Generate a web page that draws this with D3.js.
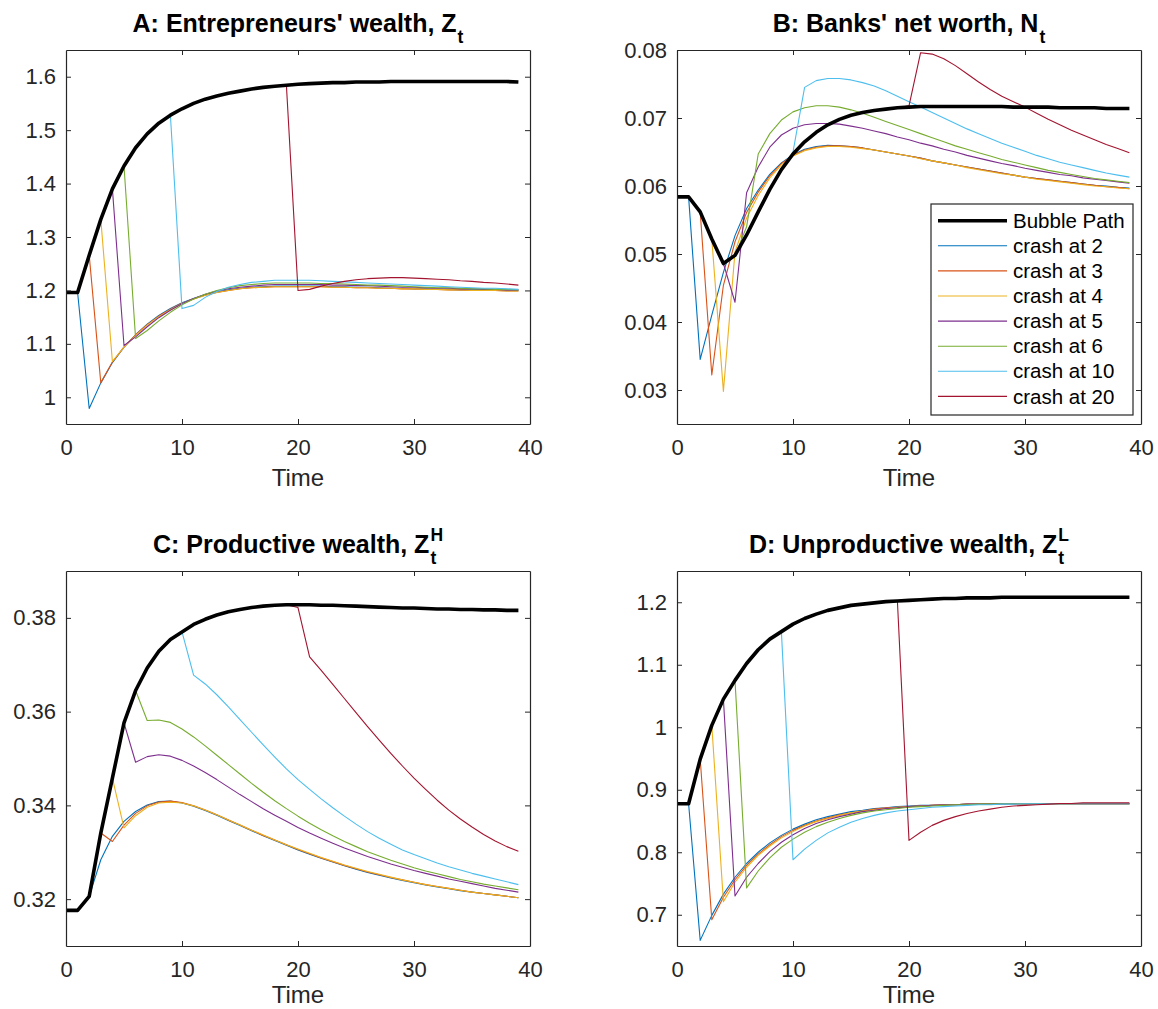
<!DOCTYPE html>
<html>
<head>
<meta charset="utf-8">
<script src="https://cdn.jsdelivr.net/npm/d3@7"></script>
<style>
  body { margin: 0; background: #fff; }
  svg { display: block; font-family: "Liberation Sans", Arial, Helvetica, sans-serif; }
</style>
</head>
<body>
<svg id="fig" width="1158" height="1009"></svg>
<script>
// ---- shared axes data ----
const time = d3.range(0, 40);
const xTicks = [0, 10, 20, 30, 40];
const crashTimes = [2, 3, 4, 5, 6, 10, 20];
const seriesNames = ["Bubble Path", "crash at 2", "crash at 3", "crash at 4",
                     "crash at 5", "crash at 6", "crash at 10", "crash at 20"];
const seriesColors = ["#000000", "#0072BD", "#D95319", "#EDB120",
                      "#7E2F8E", "#77AC30", "#4DBEEE", "#A2142F"];

// ---- A: entrepreneurs' wealth Z_t ----
const bubbleZ = [1.196,1.196,1.266,1.333,1.390,1.433,1.467,1.493,1.513,1.528,
  1.540,1.550,1.558,1.564,1.569,1.573,1.577,1.580,1.582,1.584,
  1.586,1.587,1.588,1.589,1.589,1.590,1.590,1.590,1.591,1.591,
  1.591,1.591,1.591,1.591,1.591,1.591,1.591,1.591,1.591,1.590];
// values from the crash period onwards
const crashZ2 = [0.979,1.027,1.065,1.094,1.117,1.137,1.153,1.166,1.177,1.185,
  1.192,1.197,1.201,1.204,1.206,1.207,1.208,1.208,1.208,1.208,1.208,1.207,1.207,
  1.206,1.206,1.205,1.204,1.204,1.203,1.203,1.202,1.202,1.201,1.201,1.201,1.200,1.200,1.200];
const crashZ3 = [1.027,1.066,1.094,1.117,1.136,1.152,1.165,1.176,1.184,1.191,1.196,
  1.200,1.203,1.205,1.206,1.207,1.207,1.207,1.207,1.207,1.206,1.206,1.205,1.205,
  1.204,1.204,1.203,1.203,1.202,1.202,1.201,1.201,1.200,1.200,1.200,1.199,1.199];
const crashZ4 = [1.067,1.094,1.116,1.135,1.151,1.164,1.175,1.184,1.191,1.196,1.200,
  1.203,1.205,1.206,1.207,1.207,1.207,1.207,1.207,1.206,1.206,1.205,1.205,1.204,
  1.204,1.203,1.203,1.202,1.202,1.201,1.201,1.200,1.200,1.200,1.199,1.199];
const crashZ5 = [1.097,1.113,1.132,1.149,1.163,1.175,1.185,1.193,1.199,1.203,1.206,
  1.208,1.210,1.211,1.211,1.211,1.211,1.211,1.210,1.210,1.209,1.209,1.208,1.207,
  1.206,1.206,1.205,1.204,1.204,1.203,1.203,1.202,1.202,1.201,1.201];
const crashZ6 = [1.110,1.125,1.143,1.159,1.173,1.184,1.193,1.200,1.205,1.209,1.211,
  1.213,1.214,1.214,1.214,1.214,1.213,1.213,1.212,1.211,1.210,1.210,1.209,1.208,
  1.207,1.206,1.205,1.205,1.204,1.203,1.203,1.202,1.202,1.201];
const crashZ10 = [1.166,1.172,1.187,1.198,1.206,1.211,1.215,1.217,1.219,1.219,1.219,
  1.219,1.218,1.217,1.216,1.215,1.214,1.213,1.212,1.211,1.210,1.209,1.208,1.207,
  1.206,1.205,1.204,1.204,1.203,1.202];
const crashZ20 = [1.200,1.202,1.208,1.213,1.217,1.220,1.222,1.223,1.224,1.224,1.223,
  1.222,1.221,1.220,1.218,1.217,1.215,1.214,1.212,1.210];

// ---- B: banks' net worth N_t ----
const bubbleN = [0.0584,0.0584,0.0562,0.0522,0.0486,0.0498,0.0528,0.0562,0.0595,0.0624,
  0.0647,0.0665,0.0679,0.0690,0.0698,0.0704,0.0708,0.0711,0.0713,0.0715,
  0.0716,0.0717,0.0717,0.0717,0.0717,0.0717,0.0717,0.0717,0.0717,0.0716,
  0.0716,0.0716,0.0716,0.0715,0.0715,0.0715,0.0715,0.0714,0.0714,0.0714];
const crashN2 = [0.0345,0.0410,0.0473,0.0527,0.0567,0.0594,0.0617,0.0634,0.0646,0.0654,
  0.0658,0.0660,0.0659,0.0658,0.0656,0.0653,0.0650,0.0647,0.0644,0.0641,0.0637,0.0634,
  0.0631,0.0628,0.0625,0.0622,0.0619,0.0616,0.0613,0.0611,0.0609,0.0607,0.0605,0.0603,
  0.0601,0.0600,0.0598,0.0597];
const crashN3 = [0.0322,0.0454,0.0518,0.0561,0.0591,0.0615,0.0633,0.0645,0.0653,0.0657,
  0.0659,0.0659,0.0658,0.0656,0.0653,0.0650,0.0647,0.0644,0.0641,0.0637,0.0634,0.0631,
  0.0628,0.0625,0.0622,0.0619,0.0616,0.0613,0.0611,0.0609,0.0607,0.0605,0.0603,0.0601,
  0.0599,0.0598,0.0596];
const crashN4 = [0.0298,0.0503,0.0553,0.0586,0.0612,0.0631,0.0644,0.0652,0.0656,0.0658,
  0.0658,0.0657,0.0655,0.0653,0.0650,0.0647,0.0644,0.0640,0.0637,0.0634,0.0631,0.0627,
  0.0624,0.0621,0.0618,0.0616,0.0613,0.0610,0.0608,0.0606,0.0604,0.0602,0.0600,0.0599,
  0.0597,0.0596];
const crashN5 = [0.0429,0.0590,0.0628,0.0657,0.0675,0.0685,0.0690,0.0692,0.0692,0.0691,
  0.0688,0.0685,0.0681,0.0677,0.0672,0.0668,0.0663,0.0659,0.0654,0.0650,0.0645,0.0641,
  0.0637,0.0633,0.0630,0.0626,0.0623,0.0620,0.0617,0.0615,0.0612,0.0610,0.0608,0.0606,0.0604];
const crashN6 = [0.0540,0.0647,0.0677,0.0697,0.0709,0.0715,0.0718,0.0718,0.0716,0.0712,
  0.0707,0.0701,0.0695,0.0689,0.0683,0.0677,0.0671,0.0665,0.0659,0.0654,0.0649,0.0644,
  0.0639,0.0635,0.0631,0.0627,0.0623,0.0620,0.0617,0.0614,0.0611,0.0609,0.0607,0.0605];
const crashN10 = [0.0650,0.0745,0.0755,0.0758,0.0758,0.0756,0.0752,0.0747,0.0740,0.0732,
  0.0724,0.0716,0.0708,0.0700,0.0692,0.0684,0.0677,0.0670,0.0663,0.0657,0.0651,0.0645,
  0.0640,0.0635,0.0631,0.0627,0.0623,0.0619,0.0616,0.0613];
const crashN20 = [0.0718,0.0796,0.0794,0.0787,0.0777,0.0765,0.0753,0.0742,0.0732,0.0724,
  0.0716,0.0707,0.0698,0.0690,0.0682,0.0675,0.0668,0.0661,0.0655,0.0649];

// ---- C: productive wealth Z^H_t ----
const bubbleH = [0.3176,0.3176,0.3206,0.3341,0.3458,0.3576,0.3645,0.3693,0.3729,0.3754,
  0.3770,0.3786,0.3797,0.3806,0.3813,0.3818,0.3822,0.3825,0.3827,0.3828,
  0.3828,0.3828,0.3827,0.3827,0.3826,0.3825,0.3824,0.3823,0.3822,0.3821,
  0.3821,0.3820,0.3819,0.3819,0.3818,0.3818,0.3817,0.3817,0.3816,0.3816];
const crashH2 = [0.3206,0.3284,0.3334,0.3366,0.3387,0.3401,0.3408,0.3409,0.3405,0.3398,
  0.3389,0.3379,0.3368,0.3357,0.3346,0.3335,0.3325,0.3315,0.3305,0.3296,0.3287,0.3279,
  0.3271,0.3264,0.3257,0.3251,0.3245,0.3240,0.3235,0.3230,0.3226,0.3222,0.3218,0.3215,
  0.3212,0.3209,0.3206,0.3203];
const crashH3 = [0.3341,0.3323,0.3358,0.3383,0.3399,0.3407,0.3409,0.3406,0.3399,0.3390,
  0.3380,0.3369,0.3358,0.3347,0.3336,0.3326,0.3316,0.3306,0.3297,0.3288,0.3280,0.3272,
  0.3265,0.3258,0.3252,0.3246,0.3241,0.3236,0.3231,0.3227,0.3223,0.3219,0.3215,0.3212,
  0.3209,0.3206,0.3203];
const crashH4 = [0.3458,0.3352,0.3378,0.3396,0.3405,0.3407,0.3405,0.3399,0.3390,0.3380,
  0.3369,0.3358,0.3347,0.3337,0.3326,0.3316,0.3307,0.3298,0.3289,0.3281,0.3273,0.3266,
  0.3259,0.3253,0.3247,0.3241,0.3236,0.3231,0.3227,0.3223,0.3219,0.3215,0.3212,0.3209,
  0.3206,0.3203];
const crashH5 = [0.3576,0.3492,0.3504,0.3508,0.3505,0.3496,0.3484,0.3470,0.3455,0.3439,
  0.3423,0.3408,0.3393,0.3379,0.3366,0.3353,0.3341,0.3330,0.3319,0.3309,0.3300,0.3291,
  0.3283,0.3275,0.3268,0.3261,0.3255,0.3249,0.3243,0.3238,0.3233,0.3228,0.3223,0.3219,0.3215];
const crashH6 = [0.3645,0.3581,0.3582,0.3577,0.3563,0.3546,0.3527,0.3507,0.3487,0.3467,
  0.3447,0.3428,0.3410,0.3393,0.3377,0.3362,0.3348,0.3335,0.3323,0.3312,0.3301,0.3292,
  0.3283,0.3275,0.3267,0.3260,0.3254,0.3248,0.3242,0.3237,0.3232,0.3228,0.3224,0.3220];
const crashH10 = [0.3770,0.3678,0.3659,0.3636,0.3610,0.3583,0.3556,0.3529,0.3503,0.3478,
  0.3455,0.3434,0.3414,0.3395,0.3377,0.3360,0.3344,0.3330,0.3317,0.3305,0.3295,0.3286,
  0.3277,0.3269,0.3262,0.3255,0.3249,0.3243,0.3237,0.3231];
const crashH20 = [0.3822,0.3717,0.3688,0.3658,0.3628,0.3598,0.3568,0.3539,0.3511,0.3484,
  0.3458,0.3434,0.3411,0.3390,0.3371,0.3354,0.3338,0.3324,0.3312,0.3302];

// ---- D: unproductive wealth Z^L_t ----
const bubbleL = [0.8775,0.8775,0.949,1.003,1.045,1.075,1.102,1.124,1.141,1.153,
  1.165,1.174,1.181,1.187,1.191,1.195,1.197,1.199,1.201,1.202,
  1.203,1.204,1.205,1.206,1.206,1.207,1.207,1.207,1.208,1.208,
  1.208,1.208,1.208,1.208,1.208,1.208,1.208,1.208,1.208,1.208];
const crashL2 = [0.659,0.699,0.733,0.760,0.782,0.800,0.815,0.827,0.837,0.845,0.852,0.857,
  0.861,0.865,0.867,0.870,0.871,0.873,0.874,0.875,0.875,0.876,0.876,0.877,0.877,0.877,
  0.877,0.8775,0.8775,0.8775,0.8775,0.8775,0.8775,0.8775,0.8775,0.8775,0.8775,0.8775];
const crashL3 = [0.692,0.728,0.756,0.779,0.797,0.812,0.825,0.835,0.843,0.850,0.855,0.860,
  0.863,0.866,0.869,0.871,0.872,0.873,0.874,0.875,0.876,0.876,0.877,0.877,0.877,
  0.8775,0.8775,0.8775,0.8775,0.8775,0.8775,0.8775,0.8775,0.8775,0.8775,0.8775,0.8775];
const crashL4 = [0.721,0.752,0.776,0.795,0.810,0.823,0.833,0.842,0.849,0.854,0.859,0.863,
  0.866,0.868,0.870,0.872,0.873,0.874,0.875,0.876,0.876,0.877,0.877,0.877,
  0.8775,0.8775,0.8775,0.8775,0.8775,0.8775,0.8775,0.8775,0.8775,0.8775,0.8775,0.8775];
const crashL5 = [0.730,0.760,0.782,0.801,0.816,0.828,0.838,0.846,0.852,0.857,0.861,0.865,
  0.867,0.870,0.871,0.873,0.874,0.875,0.876,0.876,0.877,0.877,0.877,
  0.8775,0.8775,0.8775,0.8775,0.8775,0.8775,0.8775,0.8775,0.8775,0.8775,0.8775,0.8775];
const crashL6 = [0.743,0.770,0.791,0.808,0.821,0.832,0.841,0.848,0.854,0.859,0.863,0.866,
  0.868,0.870,0.872,0.873,0.874,0.875,0.876,0.876,0.877,0.877,
  0.8775,0.8775,0.8775,0.8775,0.8775,0.8775,0.8775,0.8775,0.8775,0.8775,0.8775,0.8775];
const crashL10 = [0.788,0.805,0.819,0.831,0.840,0.848,0.854,0.859,0.863,0.866,0.868,0.870,
  0.872,0.873,0.874,0.875,0.876,0.876,0.877,0.877,
  0.8775,0.8775,0.8775,0.8775,0.8775,0.8775,0.8775,0.8775,0.8775,0.8775];
const crashL20 = [0.819,0.832,0.843,0.851,0.857,0.862,0.866,0.869,0.872,0.874,0.875,0.876,
  0.877,0.878,0.878,0.879,0.879,0.879,0.879,0.879];

// A crash path follows the bubble path until the crash period, then its own values.
function crashPaths(bubble, tails) {
  return crashTimes.map((k, i) => bubble.slice(0, k).concat(tails[i]));
}

const panels = [
  { title: "A: Entrepreneurs' wealth, Z", sub: "t", sup: null,
    left: 66, top: 50, w: 464, h: 374, labelGap: 62,
    ylim: [0.95, 1.65], yTicks: [1, 1.1, 1.2, 1.3, 1.4, 1.5, 1.6],
    bubble: bubbleZ, tails: [crashZ2, crashZ3, crashZ4, crashZ5, crashZ6, crashZ10, crashZ20] },
  { title: "B: Banks' net worth, N", sub: "t", sup: null,
    left: 677, top: 50, w: 464, h: 374, labelGap: 62,
    ylim: [0.025, 0.08], yTicks: [0.03, 0.04, 0.05, 0.06, 0.07, 0.08],
    bubble: bubbleN, tails: [crashN2, crashN3, crashN4, crashN5, crashN6, crashN10, crashN20],
    legend: true },
  { title: "C: Productive wealth, Z", sub: "t", sup: "H",
    left: 66, top: 571, w: 464, h: 375, labelGap: 57,
    ylim: [0.31, 0.39], yTicks: [0.32, 0.34, 0.36, 0.38],
    bubble: bubbleH, tails: [crashH2, crashH3, crashH4, crashH5, crashH6, crashH10, crashH20] },
  { title: "D: Unproductive wealth, Z", sub: "t", sup: "L",
    left: 677, top: 571, w: 464, h: 375, labelGap: 57,
    ylim: [0.65, 1.25], yTicks: [0.7, 0.8, 0.9, 1, 1.1, 1.2],
    bubble: bubbleL, tails: [crashL2, crashL3, crashL4, crashL5, crashL6, crashL10, crashL20] }
];

const svg = d3.select("#fig");
const axisColor = "#262626";
const tickFont = 22;
const fmt = d => String(+d.toFixed(3));

panels.forEach((p, pi) => {
  const x = d3.scaleLinear().domain([0, 40]).range([0, p.w]);
  const y = d3.scaleLinear().domain(p.ylim).range([p.h, 0]);
  const g = svg.append("g").attr("transform", `translate(${p.left},${p.top})`);

  g.append("rect").attr("width", p.w).attr("height", p.h).attr("fill", "#fff");

  const clipId = "clip" + pi;
  g.append("clipPath").attr("id", clipId)
    .append("rect").attr("width", p.w).attr("height", p.h);

  const line = d3.line().x((v, i) => x(time[i])).y(v => y(v));
  const crashes = crashPaths(p.bubble, p.tails);
  const lg = g.append("g").attr("clip-path", `url(#${clipId})`);
  // crash paths first, bubble path on top
  crashes.forEach((vals, ci) => {
    lg.append("path")
      .attr("d", line(vals))
      .attr("fill", "none")
      .attr("stroke", seriesColors[ci + 1])
      .attr("stroke-width", 1.1)
      .attr("stroke-linejoin", "round");
  });
  lg.append("path")
    .attr("d", line(p.bubble))
    .attr("fill", "none")
    .attr("stroke", seriesColors[0])
    .attr("stroke-width", 3.6)
    .attr("stroke-linejoin", "round");

  // box with inward ticks on all four sides
  const ax = [
    g.append("g").attr("transform", `translate(0,${p.h})`)
      .call(d3.axisBottom(x).tickValues(xTicks).tickSize(-5).tickSizeOuter(0).tickPadding(15)),
    g.append("g")
      .call(d3.axisLeft(y).tickValues(p.yTicks).tickFormat(fmt).tickSize(-5).tickSizeOuter(0).tickPadding(10)),
    g.append("g")
      .call(d3.axisTop(x).tickValues(xTicks).tickSize(-5).tickSizeOuter(0).tickFormat("")),
    g.append("g").attr("transform", `translate(${p.w},0)`)
      .call(d3.axisRight(y).tickValues(p.yTicks).tickSize(-5).tickSizeOuter(0).tickFormat(""))
  ];
  ax.forEach(a => {
    a.select(".domain").attr("stroke", axisColor).attr("stroke-width", 1.2);
    a.selectAll(".tick line").attr("stroke", axisColor).attr("stroke-width", 1);
    a.selectAll(".tick text").attr("fill", axisColor)
      .attr("font-size", tickFont).attr("font-family", "Liberation Sans, Arial, sans-serif");
  });
  ax[2].selectAll(".tick").filter(d => d === 0 || d === 40).remove();

  // x-axis label
  g.append("text")
    .attr("x", p.w / 2).attr("y", p.h + p.labelGap)
    .attr("text-anchor", "middle")
    .attr("font-size", 24).attr("fill", axisColor)
    .text("Time");

  // title with sub/superscript
  const baseY = p.top - 18;
  const tg = svg.append("g");
  const main = tg.append("text").attr("y", baseY)
    .attr("font-size", 25).attr("font-weight", "bold").attr("fill", "#000")
    .text(p.title);
  const mainW = main.node().getComputedTextLength();
  const sub = tg.append("text").attr("x", mainW + 1).attr("y", baseY + 11)
    .attr("font-size", 17.5).attr("font-weight", "bold").attr("fill", "#000")
    .text(p.sub);
  let scriptW = sub.node().getComputedTextLength();
  if (p.sup) {
    const sup = tg.append("text").attr("x", mainW + 1).attr("y", baseY - 12)
      .attr("font-size", 17.5).attr("font-weight", "bold").attr("fill", "#000")
      .text(p.sup);
    scriptW = Math.max(scriptW, sup.node().getComputedTextLength());
  }
  const total = mainW + 1 + scriptW;
  tg.attr("transform", `translate(${p.left + p.w / 2 - total / 2},0)`);

  if (p.legend) {
    const L = { x: 931 - p.left, y: 204 - p.top, w: 202, h: 211 };
    const leg = g.append("g");
    leg.append("rect").attr("x", L.x).attr("y", L.y).attr("width", L.w).attr("height", L.h)
      .attr("fill", "#fff").attr("stroke", axisColor).attr("stroke-width", 1.2);
    seriesNames.forEach((name, i) => {
      const cy = L.y + 16.7 + i * 25.1;
      leg.append("line")
        .attr("x1", L.x + 7).attr("x2", L.x + 76).attr("y1", cy).attr("y2", cy)
        .attr("stroke", seriesColors[i]).attr("stroke-width", i === 0 ? 3.6 : 1.1);
      leg.append("text")
        .attr("x", L.x + 82).attr("y", cy).attr("dy", "0.35em")
        .attr("font-size", 20.5).attr("fill", "#000")
        .text(name);
    });
  }
});
</script>
</body>
</html>
